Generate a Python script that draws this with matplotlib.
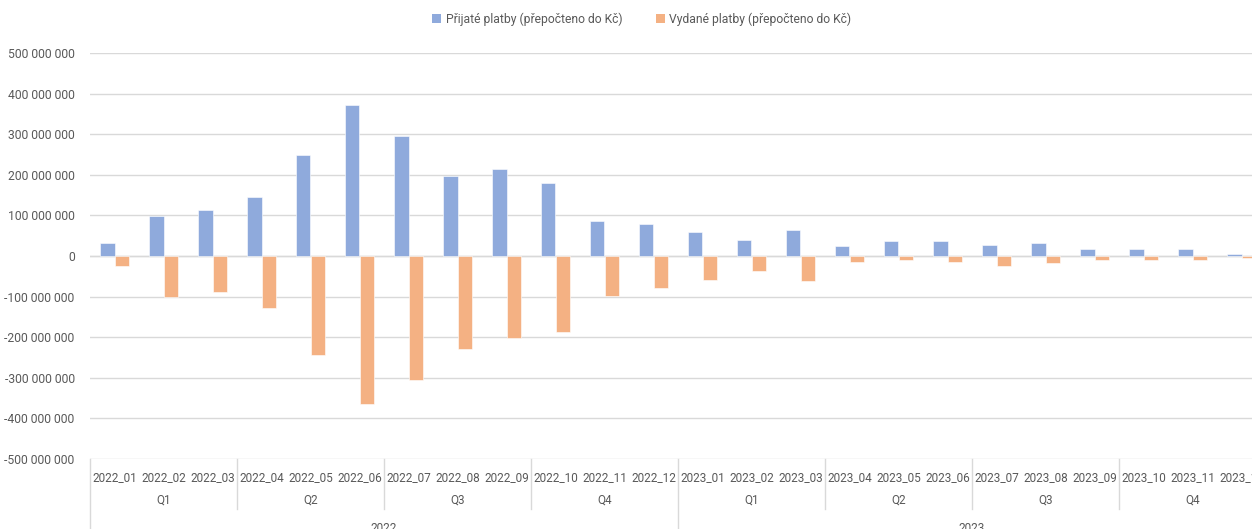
import matplotlib
matplotlib.use("Agg")
import matplotlib.pyplot as plt
import matplotlib.ticker as mticker
from matplotlib.patches import Patch
import numpy as np

plt.rcParams['font.family'] = ['Roboto', 'DejaVu Sans']

months = ["2022_01", "2022_02", "2022_03", "2022_04", "2022_05", "2022_06",
          "2022_07", "2022_08", "2022_09", "2022_10", "2022_11", "2022_12",
          "2023_01", "2023_02", "2023_03", "2023_04", "2023_05", "2023_06",
          "2023_07", "2023_08", "2023_09", "2023_10", "2023_11", "2023_12"]
quarters = ["Q1", "Q2", "Q3", "Q4", "Q1", "Q2", "Q3", "Q4"]
years = ["2022", "2023"]

received = [33e6, 99e6, 114e6, 146e6, 250e6, 372e6,
            296e6, 197e6, 215e6, 180e6, 86e6, 79e6,
            59e6, 40e6, 64e6, 25e6, 37e6, 37e6,
            28e6, 32e6, 18e6, 18e6, 18e6, 6e6]
paid = [-25e6, -102e6, -89e6, -127e6, -245e6, -364e6,
        -306e6, -230e6, -203e6, -186e6, -98e6, -80e6,
        -59e6, -37e6, -61e6, -15e6, -10e6, -15e6,
        -24e6, -18e6, -11e6, -9e6, -11e6, -5e6]

label_rec = "Přijaté platby (přepočteno do Kč)"
label_paid = "Vydané platby (přepočteno do Kč)"
yticks = np.arange(-500e6, 500e6 + 1, 100e6)

BLUE = "#8FAADC"
ORANGE = "#F4B183"
GRID = "#D9D9D9"
TXT = "#595959"

W, H = 1252, 529
fig = plt.figure(figsize=(W / 100, H / 100), dpi=100)
left, right, top, bottom = 90, 1266, 53, 459
ax = fig.add_axes([left / W, 1 - bottom / H, (right - left) / W, (bottom - top) / H])

x = np.arange(len(months))
bw = 0.286
ax.bar(x - bw / 2, received, width=bw, color=BLUE, edgecolor="white", linewidth=0.4, zorder=3)
ax.bar(x + bw / 2, paid, width=bw, color=ORANGE, edgecolor="white", linewidth=0.4, zorder=3)

ax.set_xlim(-0.5, len(months) - 0.5)
ax.set_ylim(-500e6, 500e6)
ax.set_yticks(yticks)
ax.yaxis.set_major_formatter(mticker.FuncFormatter(
    lambda v, p: f"{int(round(v)):,}".replace(",", " ")))
ax.tick_params(axis="y", length=0, pad=11, labelsize=8.7, labelcolor=TXT)
ax.set_xticks([])
for s in ax.spines.values():
    s.set_visible(False)
ax.grid(axis="y", color=GRID, linewidth=1.0, zorder=0)
ax.axhline(0, color=GRID, linewidth=1.0, zorder=2)

ah = bottom - top
def ay(py):
    return (bottom - py) / ah

trans = ax.get_xaxis_transform()
for i, m in enumerate(months):
    ax.text(i, ay(478), m, transform=trans, ha="center", va="center",
            fontsize=8.5, color=TXT, clip_on=False)
for qi, q in enumerate(quarters):
    ax.text(qi * 3 + 1, ay(500), q, transform=trans, ha="center", va="center",
            fontsize=8.5, color=TXT, clip_on=False)
for yi, yr in enumerate(years):
    ax.text(yi * 12 + 5.5, ay(528), yr, transform=trans, ha="center", va="center",
            fontsize=8.5, color=TXT, clip_on=False)
for b in range(0, len(months) + 1, 3):
    xb = b - 0.5
    y_end = ay(540) if b % 12 == 0 else ay(509)
    ax.plot([xb, xb], [0, y_end], transform=trans, color=GRID, linewidth=1.0,
            clip_on=False, zorder=1)

handles = [Patch(facecolor=BLUE, label=label_rec), Patch(facecolor=ORANGE, label=label_paid)]
fig.legend(handles=handles, loc="center", bbox_to_anchor=(642 / W, 1 - 19 / H), ncol=2,
           frameon=False, fontsize=8.7, handlelength=0.7, handleheight=0.7,
           handletextpad=0.4, columnspacing=2.8, labelcolor=TXT)

fig.savefig("out.png", dpi=100)
